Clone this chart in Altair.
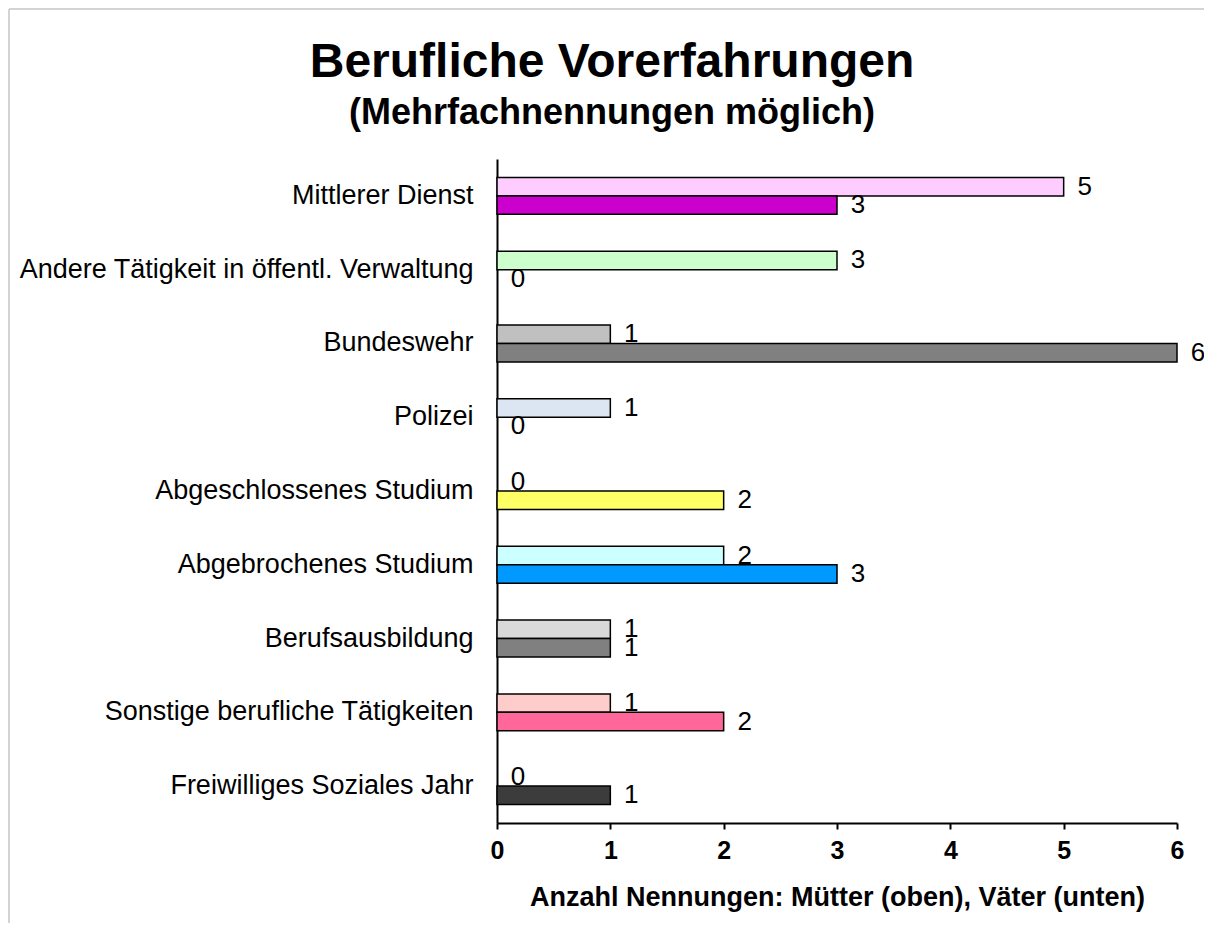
import altair as alt
import pandas as pd

categories = [
    "Mittlerer Dienst",
    "Andere Tätigkeit in öffentl. Verwaltung",
    "Bundeswehr",
    "Polizei",
    "Abgeschlossenes Studium",
    "Abgebrochenes Studium",
    "Berufsausbildung",
    "Sonstige berufliche Tätigkeiten",
    "Freiwilliges Soziales Jahr",
]
muetter = [5, 3, 1, 1, 0, 2, 1, 1, 0]
vaeter = [3, 0, 6, 0, 2, 3, 1, 2, 1]
farben_muetter = ["#FFCCFF", "#CCFFCC", "#C0C0C0", "#DCE6F2", "#FFFFCC",
                  "#CCFFFF", "#D9D9D9", "#FFCCCC", "#CCCCCC"]
farben_vaeter = ["#CC00CC", "#99CC99", "#808080", "#99B3D9", "#FFFF66",
                 "#0099FF", "#808080", "#FF6699", "#3C3C3C"]
gruppen = ["Mütter", "Väter"]
x_ticks = [0, 1, 2, 3, 4, 5, 6]

rows = []
for i, c in enumerate(categories):
    rows.append({"cat": c, "grp": gruppen[0], "val": muetter[i],
                 "key": c + "|" + gruppen[0], "col": farben_muetter[i]})
    rows.append({"cat": c, "grp": gruppen[1], "val": vaeter[i],
                 "key": c + "|" + gruppen[1], "col": farben_vaeter[i]})
df = pd.DataFrame(rows)

FONT = "Liberation Sans"

y_enc = alt.Y("cat:N", sort=categories,
              scale=alt.Scale(paddingInner=0.5, paddingOuter=0.25),
              axis=alt.Axis(title=None, ticks=False, labelPadding=24,
                            labelFontSize=27, labelColor="black", labelFont=FONT,
                            domainColor="black", domainWidth=2, labelLimit=700))
yoff = alt.YOffset("grp:N", sort=gruppen,
                   scale=alt.Scale(paddingInner=0, paddingOuter=0))
x_enc = alt.X("val:Q",
              scale=alt.Scale(domain=[0, 6], nice=False),
              axis=alt.Axis(values=x_ticks, format="d", grid=False, labelFlush=False,
                            title="Anzahl Nennungen: Mütter (oben), Väter (unten)",
                            titleFontSize=27, titleFontWeight="bold", titleFont=FONT,
                            titleColor="black", titlePadding=21,
                            labelFontSize=25, labelFontWeight="bold", labelFont=FONT,
                            labelColor="black", labelPadding=9,
                            tickColor="black", tickWidth=2, tickSize=6,
                            domainColor="black", domainWidth=2))

bars = alt.Chart(df).transform_filter("datum.val > 0").mark_bar(
    stroke="black", strokeWidth=1.5
).encode(
    x=x_enc, y=y_enc, yOffset=yoff,
    color=alt.Color("key:N", scale=alt.Scale(domain=list(df["key"]), range=list(df["col"])),
                    legend=None),
)

labels = alt.Chart(df).mark_text(
    dx=21, align="center", baseline="middle", fontSize=26, font=FONT, color="black"
).encode(
    x=alt.X("val:Q"), y=alt.Y("cat:N", sort=categories), yOffset=yoff,
    text=alt.Text("val:Q", format="d"),
)

first_key = "datum.key == '" + df["key"][0] + "'"
frame_top = alt.Chart(df).mark_rule(
    stroke="#d4d4d4", strokeWidth=2, clip=False
).encode(
    x=alt.value(-488), x2=alt.value(900), y=alt.value(-150)
).transform_filter(first_key)
frame_left = alt.Chart(df).mark_rule(
    stroke="#d4d4d4", strokeWidth=2, clip=False
).encode(
    x=alt.value(-488), y=alt.value(-150), y2=alt.value(1000)
).transform_filter(first_key)

chart = alt.layer(frame_top, frame_left, bars, labels).properties(
    width=680, height=664,
    padding={"left": 489, "top": 151, "right": 27, "bottom": 100},
    autosize=alt.AutoSizeParams(type="none"),
    title=alt.TitleParams(
        text="Berufliche Vorerfahrungen",
        subtitle="(Mehrfachnennungen möglich)",
        fontSize=48, subtitleFontSize=36, fontWeight="bold",
        subtitleFontWeight="bold", font=FONT, subtitleFont=FONT,
        color="black", subtitleColor="black", anchor="middle",
        dx=-225, offset=-123, subtitlePadding=9,
    ),
).configure(background="white").configure_view(stroke=None)

chart.save("out.html", embed_options={"renderer": "svg", "actions": False})
